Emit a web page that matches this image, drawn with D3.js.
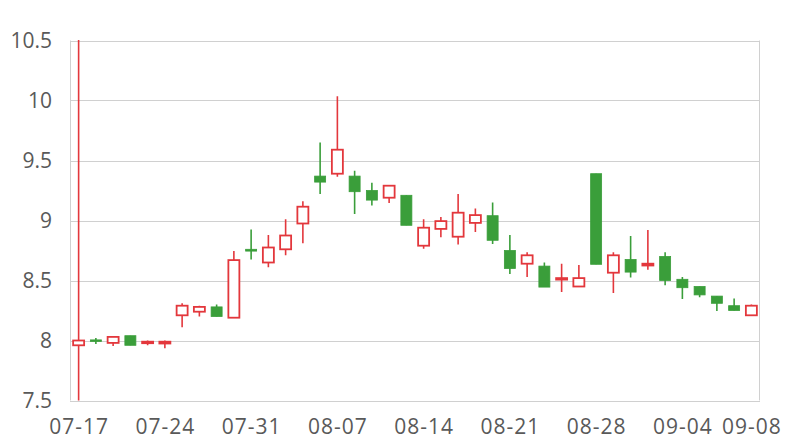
<!DOCTYPE html>
<html><head><meta charset="utf-8">
<script src="https://cdn.jsdelivr.net/npm/d3@7"></script>
<style>body{margin:0;background:#fff}svg{display:block}</style>
</head><body><svg id="c" width="800" height="440"></svg>
<script>
const dates = ["07-17","07-18","07-19","07-20","07-21","07-24","07-25","07-26","07-27","07-28",
"07-31","08-01","08-02","08-03","08-04","08-07","08-08","08-09","08-10","08-11",
"08-14","08-15","08-16","08-17","08-18","08-21","08-22","08-23","08-24","08-25",
"08-28","08-29","08-30","08-31","09-01","09-04","09-05","09-06","09-07","09-08"];
const open  = [7.96,8.005,7.98,8.04,7.98,7.975,8.21,8.24,8.28,8.19,
8.76,8.65,8.76,8.975,9.37,9.39,9.37,9.25,9.19,9.21,
8.79,8.93,8.865,8.98,9.04,8.75,8.64,8.62,8.51,8.45,
9.39,8.565,8.675,8.625,8.70,8.51,8.45,8.37,8.29,8.21];
const close = [8.00,7.995,8.03,7.96,7.99,7.99,8.29,8.28,8.20,8.67,
8.745,8.775,8.875,9.115,9.32,9.59,9.24,9.17,9.29,8.96,
8.94,8.995,9.065,9.045,8.835,8.60,8.71,8.445,8.52,8.52,
8.635,8.71,8.57,8.64,8.50,8.44,8.38,8.31,8.25,8.29];
const high  = [11.0,8.02,8.03,8.04,8.00,8.00,8.31,8.29,8.30,8.745,
8.925,8.88,9.01,9.16,9.65,10.035,9.415,9.315,9.29,9.21,
9.01,9.03,9.22,9.10,9.15,8.88,8.735,8.65,8.64,8.63,
9.39,8.735,8.87,8.92,8.735,8.53,8.45,8.37,8.35,8.30];
const low   = [7.0,7.97,7.955,7.96,7.96,7.935,8.11,8.20,8.20,8.19,
8.675,8.61,8.71,8.81,9.22,9.365,9.055,9.125,9.145,8.96,
8.765,8.86,8.80,8.905,8.805,8.555,8.53,8.445,8.405,8.45,
8.635,8.395,8.525,8.59,8.46,8.345,8.36,8.245,8.25,8.21];
const yTicks = [7.5,8,8.5,9,9.5,10,10.5];
const xTickLabels = ["07-17","07-24","07-31","08-07","08-14","08-21","08-28","09-04","09-08"];

const UP = "#e3373c", DOWN = "#3a9e3a", GRID = "#d0d0d0", TXT = "#595959";
const FONT = "'Open Sans', 'Noto Sans', sans-serif";
const L = 70, R = 760, T = 40.5, B = 400.5;
const svg = d3.select("#c");
const x = d3.scaleBand().domain(dates).range([L, R]).padding(0);
const y = d3.scaleLinear().domain([7.5, 10.5]).range([B, T]);

// grid
svg.append("g").selectAll("line").data(yTicks).join("line")
  .attr("x1", L).attr("x2", R).attr("y1", d => Math.round(y(d)) + 0.5).attr("y2", d => Math.round(y(d)) + 0.5)
  .attr("stroke", GRID).attr("stroke-width", 1);
svg.append("line").attr("x1", L + 0.5).attr("x2", L + 0.5).attr("y1", T).attr("y2", B).attr("stroke", GRID);
svg.append("line").attr("x1", R - 0.5).attr("x2", R - 0.5).attr("y1", T).attr("y2", B).attr("stroke", GRID);

// y axis
const yAxis = d3.axisLeft(y).tickValues(yTicks).tickSize(0).tickPadding(18).tickFormat(d3.format("~g"));
const gy = svg.append("g").attr("transform", `translate(${L},0)`).call(yAxis);
gy.select(".domain").remove();
gy.selectAll("text").attr("fill", TXT).style("font-family", FONT).style("font-size", "21px");

// x axis
const xAxis = d3.axisBottom(x).tickValues(xTickLabels).tickSize(0).tickPadding(19);
const gx = svg.append("g").attr("transform", `translate(0,${B})`).call(xAxis);
gx.select(".domain").remove();
gx.selectAll("text").attr("fill", TXT).style("font-family", FONT).style("font-size", "21px")
  .style("letter-spacing", "1px").attr("dx", "0.5");

svg.append("clipPath").attr("id", "clip").append("rect").attr("x", L).attr("y", T - 0.5).attr("width", R - L).attr("height", B - T + 0.5);

const data = dates.map((d, i) => ({d, o: open[i], c: close[i], h: high[i], l: low[i]}));
const bw = 11;
const g = svg.append("g").attr("clip-path", "url(#clip)");
const cg = g.selectAll("g").data(data).join("g");
const cx = d => x(d.d) + x.bandwidth() / 2;
const col = d => d.c >= d.o ? UP : DOWN;
cg.append("line").attr("x1", cx).attr("x2", cx)
  .attr("y1", d => y(d.h)).attr("y2", d => y(d.l))
  .attr("stroke", col).attr("stroke-width", 1.6);
cg.append("rect")
  .attr("x", d => cx(d) - bw / 2)
  .attr("y", d => y(Math.max(d.o, d.c)))
  .attr("width", bw)
  .attr("height", d => Math.max(1.5, Math.abs(y(d.o) - y(d.c))))
  .attr("fill", d => d.c >= d.o ? "#fff" : DOWN)
  .attr("stroke", col)
  .attr("stroke-width", d => d.c >= d.o ? 1.8 : 0.8);
</script></body></html>
